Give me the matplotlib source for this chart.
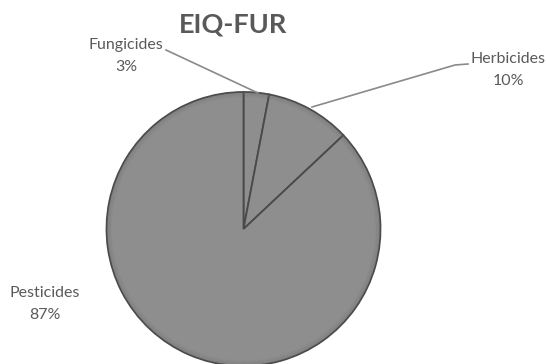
import numpy as np
import matplotlib.pyplot as plt

labels = ["Fungicides", "Herbicides", "Pesticides"]
values = [3, 10, 87]

# label positions (pixels from top-left) and leader line points
label_xy = [(126, 56), (508, 70), (45, 304)]
leaders = [
    [(166, 50), (258, 93)],
    [(468, 64), (455, 65), (312, 107)],
    None,
]

W, H = 546, 364
cx, cy, r = 243.5, 229, 137

fig = plt.figure(figsize=(W / 100, H / 100), dpi=100)
ax = fig.add_axes([0, 0, 1, 1])

wedges, _ = ax.pie(values, startangle=90, counterclock=False,
                   center=(cx, H - cy), radius=r, frame=True,
                   colors=["#8e8e8e"] * 3,
                   wedgeprops=dict(edgecolor="#4a4a4a", linewidth=1.3))
ax.set_xlim(0, W)
ax.set_ylim(0, H)
ax.set_aspect("equal")
ax.axis("off")

# soft bevel toward the rim
for k, a in enumerate(np.linspace(0.0, 1.0, 6)):
    ring = plt.Circle((cx, H - cy), r - 1 - k, fill=False,
                      edgecolor="#6a6a6a", alpha=0.25 * (1 - a), linewidth=1)
    ax.add_patch(ring)

for lab, v, (x, y), pts in zip(labels, values, label_xy, leaders):
    ax.text(x, H - y, f"{lab}\n{v}%", ha="center", va="center",
            fontsize=11.5, family="Lato", color="#5a5a5a", linespacing=1.65)
    if pts:
        px = [p[0] for p in pts]
        py = [H - p[1] for p in pts]
        ax.plot(px, py, color="#8a8a8a", linewidth=1.2)

ax.text(233, H - 25, "EIQ-FUR", ha="center", va="center", fontsize=19.5,
        fontweight="bold", family="Lato", color="#595959")

fig.savefig("out.png", dpi=100)
